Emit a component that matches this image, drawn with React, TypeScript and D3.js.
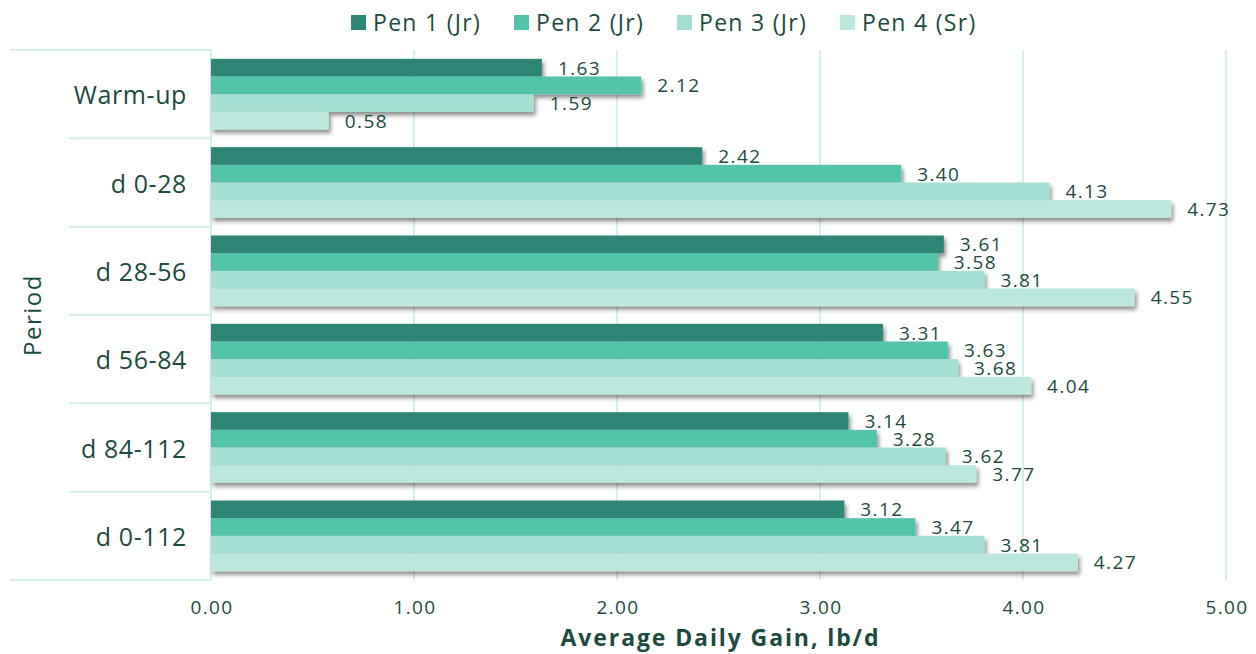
import React from "react";
import * as d3 from "d3";

const categories = ["Warm-up", "d 0-28", "d 28-56", "d 56-84", "d 84-112", "d 0-112"];
const seriesNames = ["Pen 1 (Jr)", "Pen 2 (Jr)", "Pen 3 (Jr)", "Pen 4 (Sr)"];
const pen1 = [1.63, 2.42, 3.61, 3.31, 3.14, 3.12];
const pen2 = [2.12, 3.4, 3.58, 3.63, 3.28, 3.47];
const pen3 = [1.59, 4.13, 3.81, 3.68, 3.62, 3.81];
const pen4 = [0.58, 4.73, 4.55, 4.04, 3.77, 4.27];
const xTicks = [0, 1, 2, 3, 4, 5];
const colors = ["#2e8574", "#52c3aa", "#a5dfd3", "#bce7de"];

const W = 1256;
const H = 654;
const FONT = "'Open Sans', 'DejaVu Sans', sans-serif";
const TEXT = "#1d4a3e";
const GRID = "#d3f0e9";

export default function App() {
  const series = [pen1, pen2, pen3, pen4];
  const left = 211, right = 1226, top = 50, bottom = 580;
  const x = d3.scaleLinear().domain([0, 5]).range([left, right]);
  const y = d3.scaleBand<string>().domain(categories).range([top, bottom]).paddingInner(0.2).paddingOuter(0.1);
  const inner = d3.scaleBand<number>().domain(d3.range(series.length)).range([0, y.bandwidth()]);
  const step = (bottom - top) / categories.length;
  const boundaries = d3.range(categories.length + 1).map((i) => top + i * step);

  return (
    <svg width={W} height={H} style={{ position: "absolute", left: 0, top: 0, background: "#fff" }} fontFamily={FONT}>
      <defs>
        <filter id="sh" x="-5%" y="-50%" width="110%" height="250%">
          <feDropShadow dx="2" dy="3.5" stdDeviation="2" floodColor="#000" floodOpacity="0.45" />
        </filter>
      </defs>
      {xTicks.map((t) => (
        <line key={t} x1={x(t)} x2={x(t)} y1={top} y2={bottom} stroke={GRID} strokeWidth={2} />
      ))}
      {boundaries.map((b, i) => (
        <line key={i} x1={i === 0 || i === boundaries.length - 1 ? 10 : 69} x2={left} y1={b} y2={b} stroke={GRID} strokeWidth={2} />
      ))}
      {categories.map((c, ci) => (
        <g key={c}>
          {series.map((s, si) => (
            <rect key={si} x={x(0)} y={(y(c) as number) + (inner(si) as number)} width={x(s[ci]) - x(0)} height={inner.bandwidth()} fill={colors[si]} filter="url(#sh)" />
          ))}
          {series.map((s, si) => (
            <text key={"l" + si} x={x(s[ci]) + 16} y={(y(c) as number) + (inner(si) as number) + inner.bandwidth() / 2} dominantBaseline="central" fontSize={19} letterSpacing={1.4} fill={TEXT}>
              {s[ci].toFixed(2)}
            </text>
          ))}
          <text x={187} y={(y(c) as number) + y.bandwidth() / 2} textAnchor="end" dominantBaseline="central" fontSize={25} letterSpacing={0.6} fill={TEXT}>
            {c}
          </text>
        </g>
      ))}
      {xTicks.map((t) => (
        <text key={t} x={x(t) + 1} y={607} textAnchor="middle" dominantBaseline="central" fontSize={19} letterSpacing={1.4} fill={TEXT}>
          {t.toFixed(2)}
        </text>
      ))}
      <text x={(left + right) / 2 + 2} y={637} textAnchor="middle" dominantBaseline="central" fontSize={23} fontWeight="bold" letterSpacing={1.9} fill={TEXT}>
        Average Daily Gain, lb/d
      </text>
      <text transform={`translate(31,${(top + bottom) / 2}) rotate(-90)`} textAnchor="middle" dominantBaseline="central" fontSize={24} letterSpacing={1.5} fill={TEXT}>
        Period
      </text>
      {seriesNames.map((n, i) => (
        <g key={n} transform={`translate(${351 + i * 163},22)`}>
          <rect x={0} y={-7} width={15} height={15} fill={colors[i]} />
          <text x={22} y={0} dominantBaseline="central" fontSize={23} letterSpacing={1.3} fill={TEXT}>
            {n}
          </text>
        </g>
      ))}
    </svg>
  );
}
